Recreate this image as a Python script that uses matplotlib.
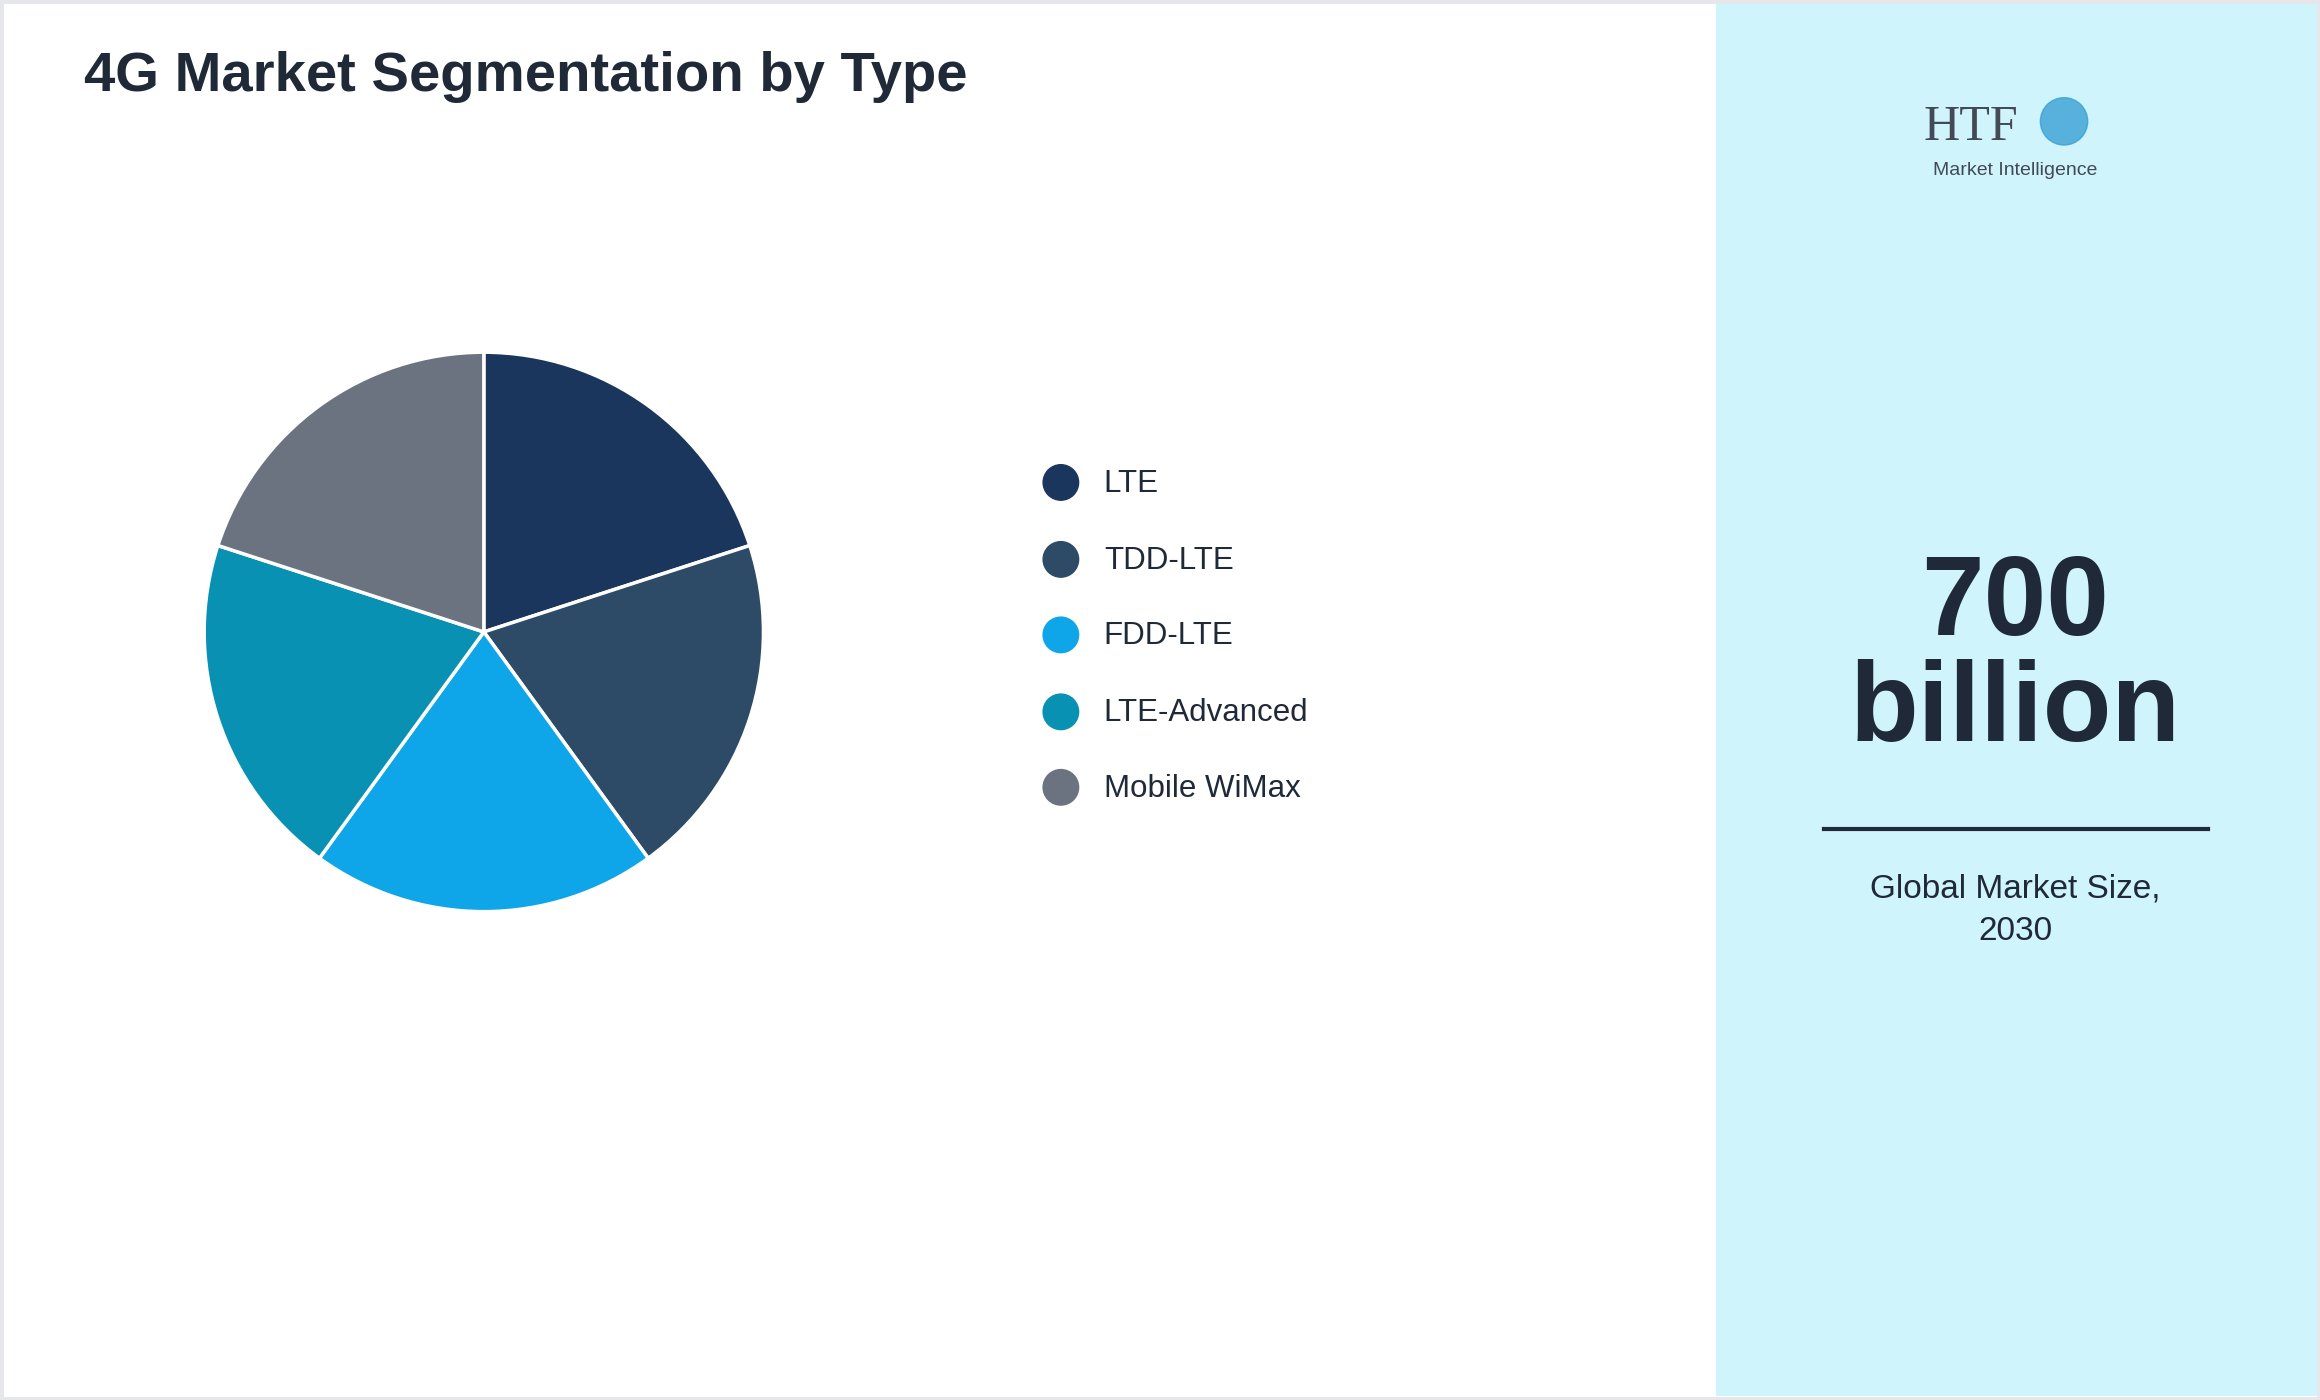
import matplotlib
matplotlib.use("Agg")
import matplotlib.pyplot as plt
from matplotlib.patches import Rectangle, Circle

categories = ["LTE", "TDD-LTE", "FDD-LTE", "LTE-Advanced", "Mobile WiMax"]
values = [20, 20, 20, 20, 20]
colors = ["#1b365d", "#2d4a66", "#0ea5e9", "#0891b2", "#6b7280"]
title = "4G Market Segmentation by Type"
big_value = "700\nbillion"
caption = "Global Market Size,\n2030"

W, H = 1568, 946
fig = plt.figure(figsize=(23.2, 14), dpi=100)
plt.rcParams['font.family'] = ['Liberation Sans', 'DejaVu Sans']
fx = lambda x: x / W
fy = lambda y: 1 - y / H

fig.patches.append(Rectangle((0, 0), 1, 1, transform=fig.transFigure, fill=False,
                             edgecolor="#e5e7eb", linewidth=5, zorder=-2))
fig.patches.append(Rectangle((fx(1160), fy(943)), fx(1566) - fx(1160), fy(3) - fy(943),
                             transform=fig.transFigure, facecolor="#cff4fc", edgecolor="none",
                             zorder=-1))

fig.text(fx(57), fy(52), title, fontsize=40.5, fontweight="bold", color="#1f2937", va="center")

r = 189
ax = fig.add_axes([fx(327 - r), fy(427 + r), 2 * r / W, 2 * r / H])
ax.pie(values, colors=colors, startangle=90, counterclock=False,
       wedgeprops=dict(edgecolor="white", linewidth=2.5))
ax.set_aspect("auto")
ax.set_xlim(-1.0, 1.0); ax.set_ylim(-1.0, 1.0)
ax.axis("off")

ys = [326, 378, 429, 481, 532]
lax = fig.add_axes([0, 0, 1, 1], facecolor="none")
lax.set_xlim(0, W); lax.set_ylim(H, 0); lax.axis("off")
for y, c, lab in zip(ys, colors, categories):
    lax.add_patch(Circle((717, y), 12, color=c))
    lax.text(746, y + 1, lab, fontsize=22.5, color="#1f2937", va="center")

lax.text(1362, 445, big_value, fontsize=81, fontweight="bold", color="#1f2937",
         ha="center", va="center", linespacing=1.0)
lax.plot([1233, 1492], [560, 560], color="#1f2937", linewidth=3)
lax.text(1362, 615, caption, fontsize=24, color="#1f2937", ha="center", va="center",
         linespacing=1.5)

# logo
lax.text(1332, 86, "HTF", fontsize=36, family="Liberation Serif", color="#444a55",
         ha="center", va="center")
lax.add_patch(Circle((1395, 82), 16, color="#3b9fd6", alpha=0.8))
lax.text(1362, 115, "Market Intelligence", fontsize=14, color="#444a55", ha="center", va="center")

fig.savefig("out.png", dpi=100)
